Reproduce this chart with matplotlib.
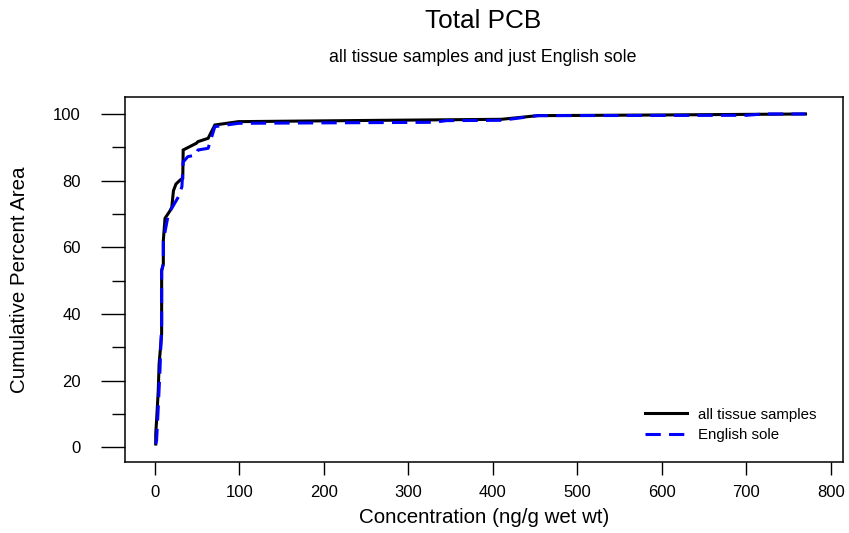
import matplotlib
matplotlib.use("Agg")
import matplotlib.pyplot as plt
from matplotlib.ticker import MultipleLocator

plt.rcParams['font.family'] = ['Liberation Sans', 'DejaVu Sans']

# all tissue samples
all_x = [1, 1, 2, 4, 5, 8, 8, 10, 10, 12, 18, 20, 22, 25, 30, 33, 33.5, 49, 51, 63, 71, 99,
         270, 410, 453, 600, 770]
all_y = [1, 4, 8, 17, 25, 34, 53, 55, 62, 68.7, 71, 72, 77, 79, 80.2, 80.7, 89.2, 91.2, 91.7,
         92.7, 96.7, 97.7, 98.1, 98.4, 99.5, 99.7, 100]

# English sole only
eng_x = [1, 2, 4, 6, 8, 8, 10, 10, 16, 28, 32, 33.5, 39, 49, 51, 63, 71, 99,
         330, 345, 410, 453, 700, 720, 770]
eng_y = [1, 2, 12, 23, 37, 53, 55, 62, 70, 75.2, 78.2, 85.6, 87.2, 87.7, 89.2, 89.7, 96.2, 97.2,
         97.5, 98.0, 98.1, 99.5, 99.6, 100, 100]

fig = plt.figure(figsize=(8.49, 5.33), dpi=100)
ax = fig.add_axes([125.3 / 849, 1 - 461.7 / 533, (842.7 - 125.3) / 849, (461.7 - 97.3) / 533])

ax.plot(all_x, all_y, color='black', lw=2.2, label='all tissue samples', solid_joinstyle='miter')
ax.plot(eng_x, eng_y, color='blue', lw=2.2, dashes=(5, 2.7), label='English sole')

ax.set_xlim(-35, 814)
ax.set_ylim(-4.3, 105)
ax.set_xticks(range(0, 801, 100))
ax.set_yticks(range(0, 101, 20))
ax.yaxis.set_minor_locator(MultipleLocator(10))

for s in ax.spines.values():
    s.set_linewidth(1.1)
ax.tick_params(axis='y', which='major', length=17, width=1, labelsize=12, pad=15)
ax.tick_params(axis='y', which='minor', length=9.5, width=1)
ax.tick_params(axis='x', which='major', length=9.5, width=1, labelsize=12, pad=7)

ax.set_xlabel('Concentration (ng/g wet wt)', fontsize=14.8, labelpad=6)
ax.set_ylabel('Cumulative Percent Area', fontsize=14.8, labelpad=17)

fig.text(483 / 849, 1 - 28.3 / 533, 'Total PCB', fontsize=18.8, ha='center', va='baseline')
fig.text(483 / 849, 1 - 61.7 / 533, 'all tissue samples and just English sole', fontsize=12.8,
         ha='center', va='baseline')

leg = ax.legend(loc='upper left', bbox_to_anchor=(637 / 849, 1 - 400 / 533),
                bbox_transform=fig.transFigure, frameon=False, fontsize=10.8,
                handlelength=2.8, handletextpad=0.8, borderpad=0, labelspacing=0.45)

fig.savefig('out.png', dpi=100)
